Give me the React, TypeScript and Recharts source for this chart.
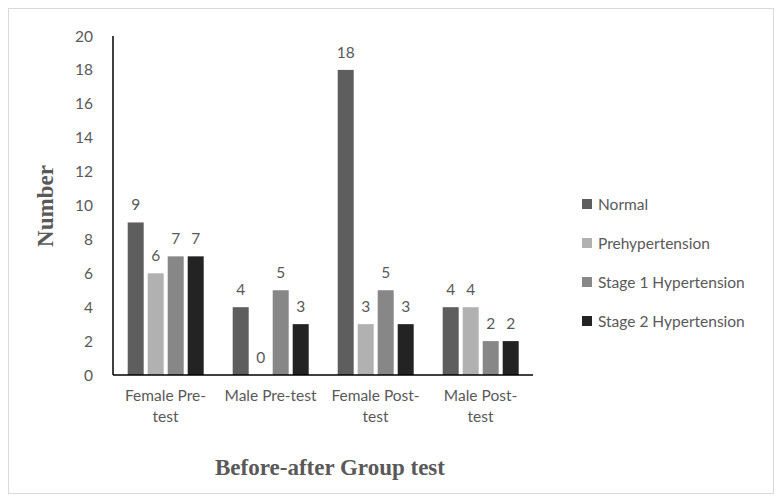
import { BarChart, Bar, XAxis, YAxis, Legend, Label } from 'recharts'

const groups = ['Female Pre-test', 'Male Pre-test', 'Female Post-test', 'Male Post-test']
const groupLines = [['Female Pre-', 'test'], ['Male Pre-test'], ['Female Post-', 'test'], ['Male Post-', 'test']]
const normal = [9, 4, 18, 4]
const prehypertension = [6, 0, 3, 4]
const stage1 = [7, 5, 5, 2]
const stage2 = [7, 3, 3, 2]
const yTicks = [0, 2, 4, 6, 8, 10, 12, 14, 16, 18, 20]

const series = [
  { key: 'normal', name: 'Normal', color: '#5e5e5e' },
  { key: 'prehypertension', name: 'Prehypertension', color: '#b1b1b1' },
  { key: 'stage1', name: 'Stage 1 Hypertension', color: '#878787' },
  { key: 'stage2', name: 'Stage 2 Hypertension', color: '#232323' },
]

const data = groups.map((g, i) => ({
  name: g,
  normal: normal[i],
  prehypertension: prehypertension[i],
  stage1: stage1[i],
  stage2: stage2[i],
}))

const FONT = 'Lato, "Liberation Sans", sans-serif'
const TEXT = '#595959'

function GroupTick(props: any) {
  const { x, y, payload } = props
  const lines = groupLines[payload.index] || [payload.value]
  return (
    <g transform={`translate(${x},${y})`}>
      {lines.map((l, i) => (
        <text key={i} x={0} y={18 + i * 21} textAnchor="middle" fill={TEXT} fontSize={15.5} fontFamily={FONT}>
          {l}
        </text>
      ))}
    </g>
  )
}

// bar plus its value above it; the value is drawn even for a zero-height bar
function BarWithValue(props: any) {
  const { x, y, width, height, fill, value } = props
  const h = Math.max(0, Number(height) || 0)
  const v = Array.isArray(value) ? value[1] - value[0] : value
  return (
    <g>
      {h > 0 && <rect x={x} y={y} width={width} height={h} fill={fill} />}
      <text x={Number(x) + Number(width) / 2} y={Number(y) - 12} textAnchor="middle" fill={TEXT} fontSize={15.5} fontFamily={FONT}>
        {v}
      </text>
    </g>
  )
}

function LegendBox() {
  return (
    <div style={{ fontFamily: FONT, fontSize: 15.5, color: TEXT }}>
      {series.map((s) => (
        <div key={s.key} style={{ display: 'flex', alignItems: 'center', height: 39 }}>
          <span style={{ width: 10, height: 10, background: s.color, marginRight: 6, display: 'inline-block' }} />
          {s.name}
        </div>
      ))}
    </div>
  )
}

export default function App() {
  return (
    <div style={{ width: 766, height: 486, border: '1px solid #d9d9d9', boxSizing: 'border-box', background: '#fff' }}>
      <BarChart
        width={764}
        height={484}
        data={data}
        margin={{ top: 27, right: 240, left: 44, bottom: 48 }}
        barCategoryGap="14%"
        barGap={4}
      >
        <XAxis
          dataKey="name"
          tick={<GroupTick />}
          tickLine={false}
          axisLine={{ stroke: '#000', strokeWidth: 1.5 }}
          height={70}
          interval={0}
        >
          <Label
            content={() => (
              <text x={321} y={466} textAnchor="middle" fill={TEXT} fontSize={23} fontWeight="bold" fontFamily='"Liberation Serif", serif'>
                Before-after Group test
              </text>
            )}
          />
        </XAxis>
        <YAxis
          domain={[0, 20]}
          ticks={yTicks}
          tickLine={false}
          axisLine={{ stroke: '#000', strokeWidth: 1.5 }}
          tick={{ fill: TEXT, fontSize: 15.5, fontFamily: FONT }}
          tickMargin={14}
          width={60}
        >
          <Label
            content={() => (
              <text
                x={44}
                y={197}
                textAnchor="middle"
                fill={TEXT}
                fontSize={23}
                fontWeight="bold"
                fontFamily='"Liberation Serif", serif'
                transform="rotate(-90 44 197)"
              >
                Number
              </text>
            )}
          />
        </YAxis>
        <Legend
          layout="vertical"
          align="center"
          verticalAlign="middle"
          content={<LegendBox />}
          wrapperStyle={{ left: 573, top: 175, width: 190 }}
        />
        {series.map((s) => (
          <Bar key={s.key} dataKey={s.key} name={s.name} fill={s.color} shape={<BarWithValue />} isAnimationActive={false} />
        ))}
      </BarChart>
    </div>
  )
}
